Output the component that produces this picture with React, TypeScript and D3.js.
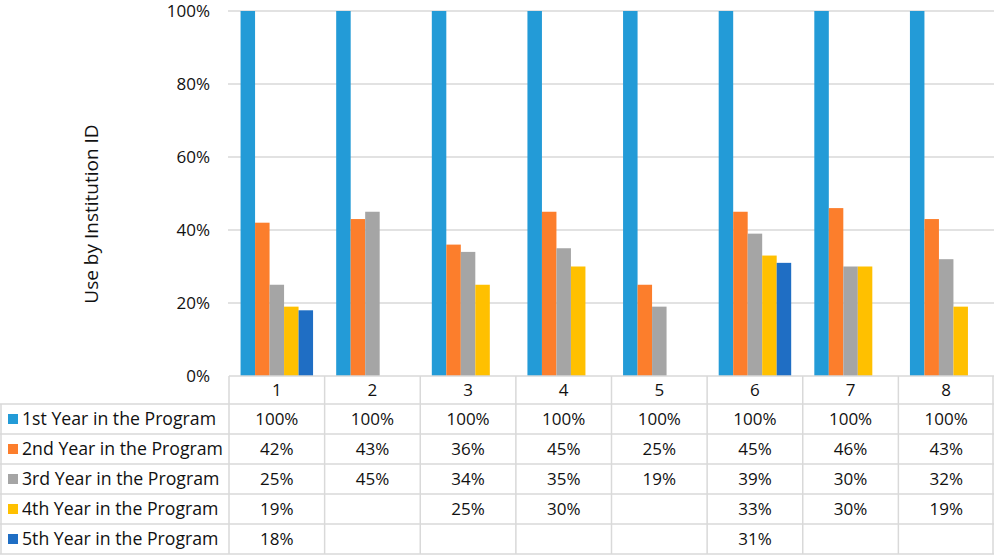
import * as d3 from "d3";

const institutions = ["1", "2", "3", "4", "5", "6", "7", "8"];
const seriesNames = [
  "1st Year in the Program",
  "2nd Year in the Program",
  "3rd Year in the Program",
  "4th Year in the Program",
  "5th Year in the Program",
];
const colors = ["#239BD7", "#FC7E2C", "#A5A5A5", "#FFC000", "#1F6EC4"];

const year1 = [100, 100, 100, 100, 100, 100, 100, 100];
const year2 = [42, 43, 36, 45, 25, 45, 46, 43];
const year3 = [25, 45, 34, 35, 19, 39, 30, 32];
const year4 = [19, null, 25, 30, null, 33, 30, 19];
const year5 = [18, null, null, null, null, 31, null, null];
const yTicks = [0, 20, 40, 60, 80, 100];

const series: (number | null)[][] = [year1, year2, year3, year4, year5];

const W = 994;
const H = 555;
const left = 229;
const right = 994;
const top = 11;
const bottom = 376;
const headerH = 28;
const rowH = 30;
const font = "'Open Sans', sans-serif";
const border = "#d9d9d9";

export default function App() {
  const x = d3.scaleBand<string>().domain(institutions).range([left, right]);
  const barW = 14.5;
  const inner = d3
    .scaleBand<number>()
    .domain(d3.range(series.length))
    .range([0, barW * series.length]);
  const groupOff = (x.bandwidth() - barW * series.length) / 2;
  const y = d3.scaleLinear().domain([0, 100]).range([bottom, top]);

  const rowTop = (i: number) => bottom + headerH + i * rowH;

  return (
    <svg
      width={W}
      height={H}
      style={{ position: "absolute", left: 0, top: 0, background: "#fff" }}
      fontFamily={font}
    >
      {/* gridlines */}
      {yTicks.map((t) => (
        <g key={t}>
          {t > 0 && (
            <line x1={left - 1} x2={right} y1={y(t)} y2={y(t)} stroke={border} strokeWidth={1.5} />
          )}
          <text x={210} y={y(t)} dy="0.36em" textAnchor="end" fontSize={17} fill="#111">
            {t}%
          </text>
        </g>
      ))}

      {/* bars */}
      {institutions.map((inst, ci) => (
        <g key={inst} transform={`translate(${(x(inst) ?? 0) + groupOff},0)`}>
          {series.map((s, si) =>
            s[ci] == null ? null : (
              <rect
                key={si}
                x={inner(si)}
                y={y(s[ci] as number)}
                width={inner.bandwidth()}
                height={bottom - y(s[ci] as number)}
                fill={colors[si]}
              />
            )
          )}
        </g>
      ))}

      {/* y axis title */}
      <text
        transform={`translate(98,214) rotate(-90)`}
        textAnchor="middle"
        fontSize={19}
        fill="#111"
      >
        Use by Institution ID
      </text>

      {/* data table */}
      <g stroke={border} strokeWidth={1.5} fill="none">
        <line x1={left} x2={right} y1={bottom} y2={bottom} />
        {seriesNames.map((_, i) => (
          <line key={i} x1={0} x2={right} y1={rowTop(i)} y2={rowTop(i)} />
        ))}
        <line x1={0} x2={right} y1={rowTop(5)} y2={rowTop(5)} />
        <line x1={1} x2={1} y1={rowTop(0)} y2={rowTop(5)} />
        {institutions.map((inst) => (
          <line key={inst} x1={x(inst)} x2={x(inst)} y1={bottom} y2={rowTop(5)} />
        ))}
        <line x1={right - 1} x2={right - 1} y1={bottom} y2={rowTop(5)} />
      </g>

      {institutions.map((inst) => (
        <text
          key={inst}
          x={(x(inst) ?? 0) + x.bandwidth() / 2}
          y={bottom + headerH / 2}
          dy="0.36em"
          textAnchor="middle"
          fontSize={17}
          fill="#111"
        >
          {inst}
        </text>
      ))}

      {seriesNames.map((name, si) => (
        <g key={name}>
          <rect x={8} y={rowTop(si) + rowH / 2 - 5} width={10} height={10} fill={colors[si]} />
          <text x={22} y={rowTop(si) + rowH / 2} dy="0.36em" fontSize={17.7} fill="#111">
            {name}
          </text>
          {institutions.map((inst, ci) =>
            series[si][ci] == null ? null : (
              <text
                key={inst}
                x={(x(inst) ?? 0) + x.bandwidth() / 2}
                y={rowTop(si) + rowH / 2}
                dy="0.36em"
                textAnchor="middle"
                fontSize={17}
                fill="#111"
              >
                {series[si][ci]}%
              </text>
            )
          )}
        </g>
      ))}
    </svg>
  );
}
